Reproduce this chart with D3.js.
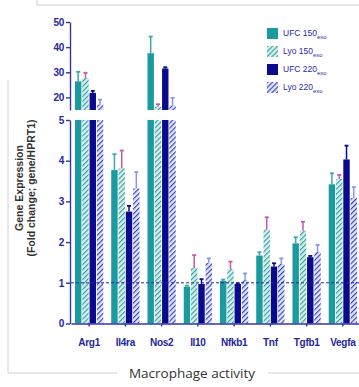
<!DOCTYPE html>
<html>
<head>
<meta charset="utf-8">
<script src="https://cdn.jsdelivr.net/npm/d3@7"></script>
<style>
  body { margin: 0; background: #fff; }
  svg { display: block; }
  .axis path, .axis line { stroke: #3434a6; stroke-width: 1.4px; }
  .axis text { fill: #2626a0; font-family: "Liberation Sans", Arial, sans-serif; font-weight: bold; font-size: 10px; letter-spacing: -0.3px; }
</style>
</head>
<body>
<div id="chart"></div>
<script>
var width = 359,
    height = 387;

// data (fold change; values above 5 sit on the upper broken axis)
var genes = ["Arg1", "Il4ra", "Nos2", "Il10", "Nfkb1", "Tnf", "Tgfb1", "Vegfa"];
var groups = ["UFC 150", "Lyo 150", "UFC 220", "Lyo 220"];
var ufc150 = [26.4, 3.77, 37.6, 0.90, 1.05, 1.67, 1.97, 3.42],
    ufc150Err = [3.8, 0.39, 6.6, 0.03, 0.03, 0.08, 0.15, 0.27];
var lyo150 = [27.8, 3.81, 16.3, 1.36, 1.34, 2.31, 2.28, 3.55],
    lyo150Err = [2.0, 0.44, 1.0, 0.32, 0.18, 0.30, 0.22, 0.10];
var ufc220 = [21.8, 2.75, 31.5, 0.97, 0.97, 1.40, 1.63, 4.03],
    ufc220Err = [0.8, 0.14, 0.5, 0.12, 0.02, 0.08, 0.03, 0.34];
var lyo220 = [17.2, 3.32, 16.8, 1.49, 1.07, 1.46, 1.76, 3.08],
    lyo220Err = [1.9, 0.40, 3.0, 0.11, 0.16, 0.14, 0.17, 0.27];
var lowTicks = [0, 1, 2, 3, 4, 5],
    highTicks = [20, 30, 40, 50];

var series = [ufc150, lyo150, ufc220, lyo220],
    errs = [ufc150Err, lyo150Err, ufc220Err, lyo220Err];
var fills = ["#1b9aa0", "url(#hatchTeal)", "#0a0a8c", "url(#hatchNavy)"],
    errColors = ["#3aa8b2", "#c25aa8", "#0a0a8c", "#8d94ee"];

// scales
var x0 = d3.scaleBand().domain(genes).range([71, 361])
  .paddingInner(0.22).paddingOuter(0.11);
var x1 = d3.scaleBand().domain(groups).range([0, x0.bandwidth()])
  .paddingInner(0.12);
var yLow = d3.scaleLinear().domain([0, 5]).range([323.5, 120]);
var yHigh = d3.scaleLinear().domain([15, 50]).range([110, 22]);

var svg = d3.select("#chart").append("svg")
  .attr("width", width)
  .attr("height", height);

var defs = svg.append("defs");
function hatch(id, bg, fg) {
  var p = defs.append("pattern")
    .attr("id", id)
    .attr("patternUnits", "userSpaceOnUse")
    .attr("width", 3.5).attr("height", 3.5)
    .attr("patternTransform", "rotate(45)");
  p.append("rect").attr("width", 3.5).attr("height", 3.5).attr("fill", bg);
  p.append("line").attr("x1", 0).attr("y1", 0).attr("x2", 0).attr("y2", 3.5)
    .attr("stroke", fg).attr("stroke-width", 2.2);
}
hatch("hatchTeal", "#d9eeec", "#26a29c");
hatch("hatchNavy", "#e2e5f7", "#2d3cc4");

// frame of the panel
var frame = "#d0d0d0";
svg.append("line").attr("x1", 37).attr("x2", 359).attr("y1", 5).attr("y2", 5).attr("stroke", frame);
svg.append("line").attr("x1", 37).attr("x2", 37).attr("y1", 0).attr("y2", 5).attr("stroke", frame);
svg.append("line").attr("x1", 8).attr("x2", 8).attr("y1", 80).attr("y2", 373).attr("stroke", frame);
svg.append("line").attr("x1", 8).attr("x2", 117).attr("y1", 373).attr("y2", 373).attr("stroke", frame);
svg.append("line").attr("x1", 268).attr("x2", 359).attr("y1", 373).attr("y2", 373).attr("stroke", frame);

// bars
var g = svg.append("g");
genes.forEach(function(gene, i) {
  series.forEach(function(s, k) {
    var v = s[i], e = errs[k][i];
    var bx = x0(gene) + x1(groups[k]), bw = x1.bandwidth();
    if (v <= 5) {
      g.append("rect").attr("x", bx).attr("width", bw)
        .attr("y", yLow(v)).attr("height", yLow(0) - yLow(v))
        .attr("fill", fills[k]);
    } else {
      g.append("rect").attr("x", bx).attr("width", bw)
        .attr("y", yLow(5)).attr("height", yLow(0) - yLow(5))
        .attr("fill", fills[k]);
      g.append("rect").attr("x", bx).attr("width", bw)
        .attr("y", yHigh(v)).attr("height", yHigh(15) - yHigh(v))
        .attr("fill", fills[k]);
    }
    var ys = v <= 5 ? yLow : yHigh;
    var cx = bx + bw / 2;
    g.append("line").attr("x1", cx).attr("x2", cx)
      .attr("y1", ys(v)).attr("y2", ys(v + e))
      .attr("stroke", errColors[k]).attr("stroke-width", 1.5);
    g.append("line").attr("x1", cx - 2).attr("x2", cx + 2)
      .attr("y1", ys(v + e)).attr("y2", ys(v + e))
      .attr("stroke", errColors[k]).attr("stroke-width", 1.8);
  });
});

// dashed reference line at 1
svg.append("line")
  .attr("x1", 71).attr("x2", 359)
  .attr("y1", yLow(1)).attr("y2", yLow(1))
  .attr("stroke", "#2a2aa0").attr("stroke-width", 1)
  .attr("stroke-dasharray", "3,2");

// AXES
var fmt = d3.format("d");
svg.append("g").attr("class", "axis")
  .attr("transform", "translate(70,0)")
  .call(d3.axisLeft(yLow).tickValues(lowTicks).tickFormat(fmt).tickSize(4).tickSizeOuter(0).tickPadding(2));
svg.append("g").attr("class", "axis")
  .attr("transform", "translate(70,0)")
  .call(d3.axisLeft(yHigh).tickValues(highTicks).tickFormat(fmt).tickSize(4).tickSizeOuter(0).tickPadding(2));
svg.append("g").attr("class", "axis")
  .attr("transform", "translate(0," + yLow(0) + ")")
  .call(d3.axisBottom(x0).tickSize(3).tickSizeOuter(0).tickPadding(12));

// y title
var yt = svg.append("text")
  .attr("transform", "translate(23,188) rotate(-90)")
  .attr("text-anchor", "middle")
  .style("font-family", "Liberation Sans, Arial, sans-serif")
  .style("font-weight", "bold")
  .style("font-size", "10.5px")
  .style("fill", "#333");
yt.append("tspan").attr("x", 0).attr("y", 0).text("Gene Expression");
yt.append("tspan").attr("x", 0).attr("y", 12).text("(Fold change; gene/HPRT1)");

// x title
svg.append("text")
  .attr("x", 192).attr("y", 378)
  .attr("text-anchor", "middle")
  .style("font-family", "Open Sans, sans-serif")
  .style("font-size", "13.5px")
  .style("fill", "#333")
  .text("Macrophage activity");

// legend
var legend = svg.append("g").attr("transform", "translate(267,28)");
groups.forEach(function(name, k) {
  var row = legend.append("g").attr("transform", "translate(0," + (k * 18) + ")");
  row.append("rect").attr("width", 11).attr("height", 11)
    .attr("fill", fills[k]);
  var t = row.append("text").attr("x", 16).attr("y", 8)
    .style("font-family", "Liberation Sans, Arial, sans-serif")
    .style("font-size", "8.5px")
    .style("fill", "#2a2aa8");
  t.append("tspan").text(name);
  t.append("tspan").attr("dy", 2.5).style("font-size", "6px").text("exo");
});
</script>
</body>
</html>
